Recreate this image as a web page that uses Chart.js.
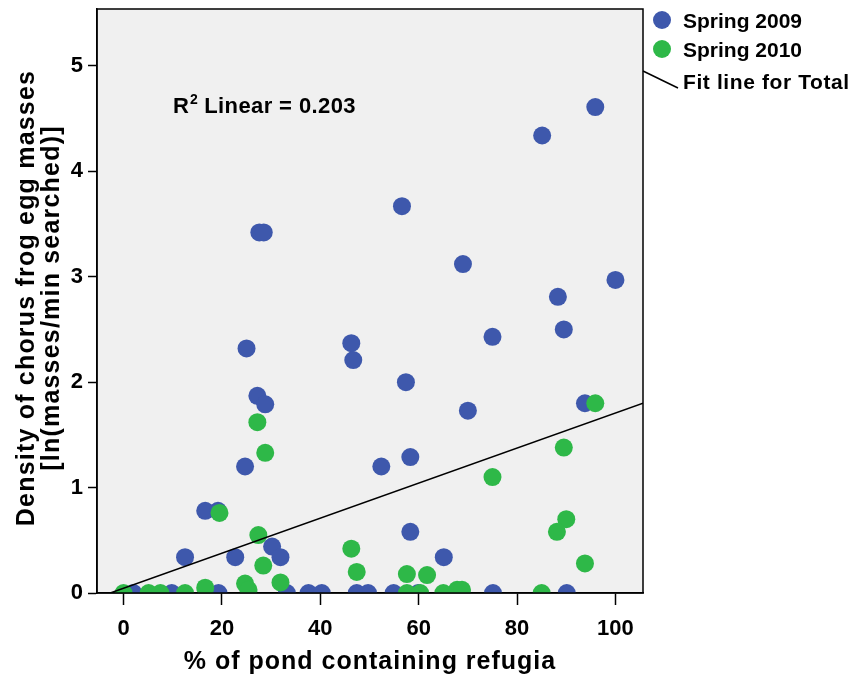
<!DOCTYPE html>
<html>
<head>
<meta charset="utf-8">
<script src="https://cdn.jsdelivr.net/npm/chart.js@4.4.0/dist/chart.umd.min.js"></script>
<style>
html,body{margin:0;padding:0;background:#fff;}
canvas{display:block;}
</style>
</head>
<body>
<canvas id="c" width="853" height="685"></canvas>
<script>
// ---- data ----
const blueX = [95.9,85.1,56.6,27.6,28.5,69.0,100,88.3,89.5,75.0,46.3,46.7,25.0,57.4,27.2,28.8,93.8,70.0,58.3,52.4,24.7,16.6,19.2,58.3,30.2,12.5,22.7,31.9,65.1,
               2.0,9.8,19.3,33.2,37.6,40.3,47.4,49.7,54.9,59.9,75.1,90.1];
const blueY = [4.61,4.34,3.67,3.42,3.42,3.12,2.97,2.81,2.50,2.43,2.37,2.21,2.32,2.00,1.87,1.79,1.80,1.73,1.29,1.20,1.20,0.78,0.78,0.58,0.44,0.34,0.34,0.34,0.34,
               0,0,0,0,0,0,0,0,0,0,0,0];
const greenX = [95.9,27.2,28.8,89.5,75.0,19.5,90.0,27.4,88.1,46.3,28.4,93.8,47.4,57.6,61.7,31.9,24.7,25.4,16.6,67.8,68.8,
                0,5.1,7.5,12.5,57.6,60.3,65.0,85.0];
const greenY = [1.80,1.62,1.33,1.38,1.10,0.76,0.70,0.55,0.58,0.42,0.26,0.28,0.20,0.18,0.17,0.10,0.09,0.03,0.05,0.03,0.03,
                0,0,0,0,0,0,0,0];
const fitX = [-2.7, 105.6];
const fitY = [0, 1.80];
const xTicks = [0,20,40,60,80,100];
const yTicks = [0,1,2,3,4,5];
const seriesNames = ['Spring 2009','Spring 2010','Fit line for Total'];
const r2Parts = ['R', '2', ' Linear = 0.203'];
const xTitle = '% of pond containing refugia';
const yTitle = ['Density of chorus frog egg masses','[ln(masses/min searched)]'];

const BLUE = '#3e58ac';
const GREEN = '#2eb848';
const FONT = '"Liberation Sans", Arial, sans-serif';

const toPts = (xs, ys) => xs.map((x, i) => ({x: x, y: ys[i]}));

const decor = {
  id: 'decor',
  beforeDraw(chart) {
    const {ctx, chartArea: a} = chart;
    ctx.save();
    ctx.fillStyle = '#f0f0f0';
    ctx.fillRect(a.left, a.top, a.right - a.left, a.bottom - a.top);
    ctx.restore();
  },
  afterDraw(chart) {
    const {ctx, chartArea: a} = chart;
    ctx.save();
    ctx.strokeStyle = '#000';
    ctx.lineWidth = 1.5;
    ctx.strokeRect(a.left, a.top, a.right - a.left, a.bottom - a.top);

    ctx.fillStyle = '#000';
    ctx.textBaseline = 'alphabetic';
    ctx.textAlign = 'left';
    // R2 annotation
    let x0 = 173;
    ctx.font = 'bold 22px ' + FONT;
    ctx.fillText(r2Parts[0], x0, 113);
    x0 += ctx.measureText(r2Parts[0]).width + 1;
    ctx.font = 'bold 14px ' + FONT;
    ctx.fillText(r2Parts[1], x0, 104);
    x0 += ctx.measureText(r2Parts[1]).width;
    ctx.font = 'bold 22px ' + FONT;
    ctx.letterSpacing = '0.4px';
    ctx.fillText(r2Parts[2], x0, 113);
    ctx.letterSpacing = '0px';

    // legend
    ctx.textBaseline = 'middle';
    ctx.beginPath(); ctx.fillStyle = BLUE; ctx.arc(662, 20, 9, 0, Math.PI * 2); ctx.fill();
    ctx.beginPath(); ctx.fillStyle = GREEN; ctx.arc(662, 49, 9, 0, Math.PI * 2); ctx.fill();
    ctx.beginPath(); ctx.strokeStyle = '#000'; ctx.lineWidth = 1.5;
    ctx.moveTo(643, 71); ctx.lineTo(678, 88); ctx.stroke();
    ctx.fillStyle = '#000';
    ctx.font = 'bold 21px ' + FONT;
    ctx.fillText(seriesNames[0], 683, 22);
    ctx.fillText(seriesNames[1], 683, 51);
    ctx.letterSpacing = '0.6px';
    ctx.fillText(seriesNames[2], 683, 83);
    ctx.letterSpacing = '0px';

    // axis titles
    ctx.font = 'bold 25px ' + FONT;
    ctx.textAlign = 'center';
    ctx.letterSpacing = '1px';
    ctx.fillText(xTitle, 370, 662);
    ctx.save();
    ctx.translate(27, 298);
    ctx.rotate(-Math.PI / 2);
    ctx.letterSpacing = '1.2px';
    ctx.fillText(yTitle[0], 0, 0);
    ctx.fillText(yTitle[1], 0, 25);
    ctx.restore();
    ctx.restore();
  }
};

new Chart(document.getElementById('c'), {
  type: 'scatter',
  data: {
    datasets: [
      {label: seriesNames[2], type: 'line', data: toPts(fitX, fitY), borderColor: '#000', borderWidth: 1.5,
       pointRadius: 0, fill: false, order: 0, clip: 0},
      {label: seriesNames[1], data: toPts(greenX, greenY), backgroundColor: GREEN, borderColor: GREEN, borderWidth: 0,
       pointRadius: 9, pointHoverRadius: 9, order: 1, clip: 0},
      {label: seriesNames[0], data: toPts(blueX, blueY), backgroundColor: BLUE, borderColor: BLUE, borderWidth: 0,
       pointRadius: 9, pointHoverRadius: 9, order: 2, clip: 0}
    ]
  },
  options: {
    responsive: false,
    animation: false,
    events: [],
    layout: {padding: {left: 0, right: 210, top: 8, bottom: 0}},
    plugins: {legend: {display: false}, tooltip: {enabled: false}},
    scales: {
      x: {
        type: 'linear', min: -5.4, max: 105.6,
        afterBuildTicks(s) { s.ticks = xTicks.map(v => ({value: v})); },
        afterFit(s) { s.height = 92; s.paddingLeft = 0; s.paddingRight = 0; },
        grid: {drawOnChartArea: false, drawTicks: true, tickLength: 12, tickColor: '#000', tickWidth: 1.5},
        border: {display: true, color: '#000', width: 1.5},
        ticks: {color: '#000', font: {family: FONT, size: 22, weight: 'bold'}, padding: 11, maxRotation: 0}
      },
      y: {
        type: 'linear', min: 0, max: 5.54,
        afterBuildTicks(s) { s.ticks = yTicks.map(v => ({value: v})); },
        afterFit(s) { s.width = 97; s.paddingTop = 0; s.paddingBottom = 0; },
        grid: {drawOnChartArea: false, drawTicks: true, tickLength: 9, tickColor: '#000', tickWidth: 1.5},
        border: {display: true, color: '#000', width: 1.5},
        ticks: {color: '#000', font: {family: FONT, size: 22, weight: 'bold'}, padding: 5}
      }
    }
  },
  plugins: [decor]
});
</script>
</body>
</html>
